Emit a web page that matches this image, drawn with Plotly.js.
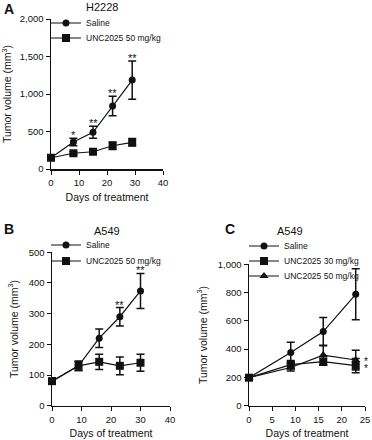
<!DOCTYPE html>
<html>
<head>
<meta charset="utf-8">
<script src="https://cdn.plot.ly/plotly-3.0.1.min.js"></script>
<style>html,body{margin:0;padding:0;background:#fff;} #chart{width:372px;height:440px;}</style>
</head>
<body>
<div id="chart"></div>
<script>
// Panel A: H2228
const daysA = [0, 8, 15, 22, 29];
const salineA = [150, 360, 490, 840, 1185];
const salineAErr = [20, 50, 80, 130, 255];
const uncA = [150, 210, 230, 310, 355];
const uncAErr = [15, 20, 25, 50, 50];
const starsA = ['', '*', '**', '**', '**'];

// Panel B: A549
const daysB = [0, 9, 16, 23, 30];
const salineB = [80, 130, 220, 290, 374];
const salineBErr = [10, 15, 30, 30, 57];
const uncB = [80, 130, 143, 130, 140];
const uncBErr = [10, 15, 25, 29, 28];
const starsB = ['', '', '', '**', '**'];

// Panel C: A549
const daysC = [0, 9, 16, 23];
const salineC = [198, 377, 524, 788];
const salineCErr = [15, 72, 100, 180];
const unc30C = [198, 290, 311, 283];
const unc30CErr = [15, 30, 25, 50];
const unc50C = [198, 270, 358, 323];
const unc50CErr = [15, 25, 70, 70];
const starsC30 = ['', '', '', '*'];
const starsC50 = ['', '', '', '*'];

const ticksA = [0, 500, 1000, 1500, 2000];
const ticksB = [0, 100, 200, 300, 400, 500];
const ticksC = [0, 200, 400, 600, 800, 1000];
const xticksAB = [0, 10, 20, 30, 40];
const xticksC = [0, 5, 10, 15, 20, 25];

const W = 372, H = 440;
const FONT = 'Liberation Sans, Arial, sans-serif';
const black = '#111';

function tr(x, y, err, name, symbol, size, xa, ya, legend) {
  return {
    x: x, y: y, name: name, type: 'scatter', mode: 'lines+markers',
    xaxis: xa, yaxis: ya, legend: legend, cliponaxis: false,
    line: {color: black, width: 1.2},
    marker: {symbol: symbol, size: size, color: black},
    error_y: {type: 'data', array: err, visible: true, color: black, thickness: 1.5, width: 4}
  };
}

const data = [
  tr(daysA, salineA, salineAErr, 'Saline', 'circle', 7, 'x', 'y', 'legend'),
  tr(daysA, uncA, uncAErr, 'UNC2025 50 mg/kg', 'square', 8, 'x', 'y', 'legend2'),
  tr(daysB, salineB, salineBErr, 'Saline', 'circle', 7, 'x2', 'y2', 'legend3'),
  tr(daysB, uncB, uncBErr, 'UNC2025 50 mg/kg', 'square', 8, 'x2', 'y2', 'legend4'),
  tr(daysC, salineC, salineCErr, 'Saline', 'circle', 7, 'x3', 'y3', 'legend5'),
  tr(daysC, unc30C, unc30CErr, 'UNC2025 30 mg/kg', 'square', 8, 'x3', 'y3', 'legend6'),
  tr(daysC, unc50C, unc50CErr, 'UNC2025 50 mg/kg', 'triangle-up', 8, 'x3', 'y3', 'legend7')
];

function px(v) { return v / W; }
function py(v) { return 1 - v / H; }

function xax(domain, range, ticks, anchor) {
  return {
    domain: domain, range: range, anchor: anchor, tickvals: ticks,
    showline: true, linecolor: black, linewidth: 1.5, ticks: 'outside', ticklen: 4, tickwidth: 1, tickcolor: black,
    showgrid: false, zeroline: false, tickfont: {family: FONT, size: 9.5, color: black},
    title: {text: 'Days of treatment', font: {family: FONT, size: 10.5, color: black}, standoff: 6},
    fixedrange: true
  };
}
function yax(domain, range, ticks, anchor) {
  return {
    domain: domain, range: range, anchor: anchor, tickvals: ticks, tickformat: ',',
    showline: true, linecolor: black, linewidth: 1.5, ticks: 'outside', ticklen: 4, tickwidth: 1, tickcolor: black,
    showgrid: false, zeroline: false, tickfont: {family: FONT, size: 9.5, color: black},
    title: {text: 'Tumor volume (mm<sup>3</sup>)', font: {family: FONT, size: 10.5, color: black}, standoff: 8},
    fixedrange: true
  };
}

const annotations = [];
function starAnn(xs, ys, errs, stars, xa, ya) {
  for (let i = 0; i < xs.length; i++) {
    if (!stars[i]) continue;
    annotations.push({x: xs[i], y: ys[i] + errs[i], xref: xa, yref: ya, text: stars[i], showarrow: false,
      xanchor: 'center', yanchor: 'bottom', yshift: -5, font: {family: FONT, size: 11, color: black}});
  }
}
starAnn(daysA, salineA, salineAErr, starsA, 'x', 'y');
starAnn(daysB, salineB, salineBErr, starsB, 'x2', 'y2');
function sideStar(xs, ys, stars, xa, ya, dy) {
  for (let i = 0; i < xs.length; i++) {
    if (!stars[i]) continue;
    annotations.push({x: xs[i], y: ys[i], xref: xa, yref: ya, text: stars[i], showarrow: false,
      xanchor: 'left', yanchor: 'middle', xshift: 6, yshift: dy, font: {family: FONT, size: 10, color: black}});
  }
}
sideStar(daysC, unc50C, starsC50, 'x3', 'y3', -1);
sideStar(daysC, unc30C, starsC30, 'x3', 'y3', -3);

function label(text, x, y, size, bold, anchor) {
  annotations.push({x: px(x), y: py(y), xref: 'paper', yref: 'paper', text: bold ? '<b>' + text + '</b>' : text,
    showarrow: false, xanchor: anchor, yanchor: 'middle', font: {family: FONT, size: size, color: black}});
}
label('A', 2, 9, 14, true, 'left');
label('H2228', 102, 7, 11, false, 'center');
label('B', 2, 229, 14, true, 'left');
label('A549', 107, 231, 11, false, 'center');
label('C', 223, 229, 14, true, 'left');
label('A549', 290, 231, 11, false, 'center');

function leg(x, y) {
  return {x: px(x), y: py(y), xanchor: 'left', yanchor: 'middle', bgcolor: 'rgba(0,0,0,0)',
    font: {family: FONT, size: 8.5, color: black}, itemwidth: 30};
}

const layout = {
  width: W, height: H, margin: {l: 0, r: 0, t: 0, b: 0}, paper_bgcolor: '#fff', plot_bgcolor: '#fff',
  showlegend: true,
  xaxis: xax([px(51), px(163)], [0, 40], xticksAB, 'y'),
  yaxis: yax([py(169), py(19)], [0, 2000], ticksA, 'x'),
  xaxis2: xax([px(52), px(170)], [0, 40], xticksAB, 'y2'),
  yaxis2: yax([py(405.7), py(252.3)], [0, 500], ticksB, 'x2'),
  xaxis3: xax([px(249), px(365)], [0, 25], xticksC, 'y3'),
  yaxis3: yax([py(405.7), py(264.3)], [0, 1000], ticksC, 'x3'),
  legend: leg(46, 23),
  legend2: leg(46, 38),
  legend3: leg(46, 245),
  legend4: leg(46, 261),
  legend5: leg(244, 246),
  legend6: leg(244, 261),
  legend7: leg(244, 276),
  annotations: annotations
};

Plotly.newPlot('chart', data, layout, {displayModeBar: false, staticPlot: true});
</script>
</body>
</html>
